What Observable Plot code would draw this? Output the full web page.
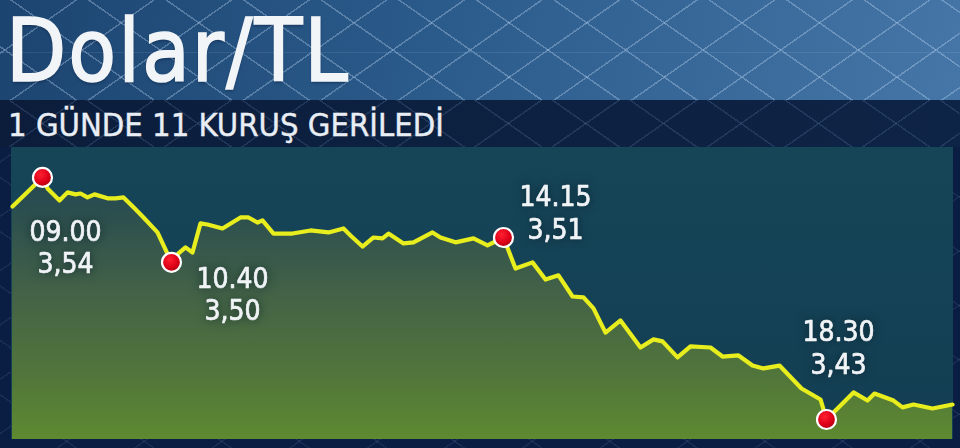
<!DOCTYPE html>
<html>
<head>
<meta charset="utf-8">
<script src="https://cdn.jsdelivr.net/npm/d3@7"></script>
<script src="https://cdn.jsdelivr.net/npm/@observablehq/plot@0.6"></script>
<style>
  html, body { margin: 0; padding: 0; }
  body {
    width: 960px; height: 448px; overflow: hidden; position: relative;
    background:
      repeating-linear-gradient(35deg, transparent 0 43px, rgba(150,185,230,.10) 43px 44.5px),
      repeating-linear-gradient(145deg, transparent 0 43px, rgba(150,185,230,.10) 43px 44.5px),
      #0a1d42;
    font-family: "DejaVu Sans Condensed", "DejaVu Sans", sans-serif;
  }
  #header {
    position: absolute; left: 0; top: 0; width: 960px; height: 100px;
    background:
      repeating-linear-gradient(35deg, transparent 0 43px, rgba(205,228,255,.30) 43px 44.5px),
      repeating-linear-gradient(145deg, transparent 0 43px, rgba(205,228,255,.30) 43px 44.5px),
      repeating-linear-gradient(180deg, transparent 0 52px, rgba(205,228,255,.10) 52px 53px),
      linear-gradient(100deg, #1c4470 0%, #2b5b8b 45%, #4576a7 100%);
  }
  #title {
    position: absolute; left: 6px; top: 1px; margin: 0; padding: 0 4px 0 0;
    font-family: "DejaVu Sans Condensed", "DejaVu Sans", sans-serif;
    font-stretch: condensed;
    font-size: 87px; line-height: 100px; font-weight: normal;
    letter-spacing: 2px;
    color: #f2f5f8;
    -webkit-text-stroke: 1.6px #f2f5f8;
    text-shadow: 0 2px 3px rgba(0,20,50,.45);
  }
  #subbar {
    position: absolute; left: 0; top: 100px; width: 960px; height: 47px;
    background:
      repeating-linear-gradient(35deg, transparent 0 43px, rgba(140,175,225,.16) 43px 44.5px),
      repeating-linear-gradient(145deg, transparent 0 43px, rgba(140,175,225,.16) 43px 44.5px),
      linear-gradient(90deg, #0b1d3b, #0e2446);
  }
  #subtitle {
    position: absolute; left: 8px; top: 105px; margin: 0;
    font-family: "DejaVu Sans Condensed", "DejaVu Sans", sans-serif;
    font-stretch: condensed;
    font-size: 32.5px; line-height: 40px; font-weight: normal;
    color: #e9eef4;
    -webkit-text-stroke: 0.4px #e9eef4;
  }
  #panel {
    position: absolute; left: 11px; top: 147px; width: 942px; height: 292px;
    background: linear-gradient(180deg, #164558 0%, #133e53 100%);
  }
  #chart { position: absolute; left: 0; top: 147px; }
  #chart g[aria-label="text"] text { filter: drop-shadow(0 0 5px rgba(5,25,35,.75)); }
</style>
</head>
<body>
<div id="header"></div>
<div id="title">Dolar/TL</div>
<div id="subbar"></div>
<div id="subtitle">1 GÜNDE 11 KURUŞ GERİLEDİ</div>
<div id="panel"></div>
<div id="chart"></div>
<script>
// intraday sample positions (arbitrary sampling steps) and USD/TRY rate
const steps = [0,15,17.5,23.5,27.5,31.5,34,37.5,41,47.5,51.5,55.5,60.5,65.5,72.5,79.5,83,86.5,90,94,97.5,105,114,118,122.5,125,130.5,140,149,158,165.5,169,175,180.5,185,188,195.5,200.5,210,214,221.5,230.5,237.5,245.5,251.5,260,266.5,273,280,285.5,290.5,296.5,304,314,320.5,325,332.5,339,349,355,363,370,375.5,383.5,394.5,404,407,420.5,427.5,431,440.5,445,450.5,460,470];
const rates = [3.5268,3.5400,3.5350,3.5295,3.5332,3.5323,3.5327,3.5309,3.5323,3.5305,3.5305,3.5309,3.5264,3.5218,3.5150,3.5014,3.5055,3.5082,3.5059,3.5191,3.5186,3.5168,3.5218,3.5218,3.5195,3.5205,3.5145,3.5145,3.5159,3.5150,3.5168,3.5136,3.5086,3.5127,3.5123,3.5145,3.5100,3.5105,3.5150,3.5127,3.5105,3.5123,3.5091,3.5127,3.4986,3.5014,3.4936,3.4955,3.4859,3.4855,3.4805,3.4695,3.4750,3.4627,3.4664,3.4655,3.4582,3.4632,3.4627,3.4586,3.4591,3.4545,3.4532,3.4545,3.4441,3.4391,3.4300,3.4423,3.4386,3.4418,3.4386,3.4355,3.4368,3.4350,3.4368];

// highlighted points
const highlightIndex = [1, 15, 43, 66];
const highlightTimes = ["09.00", "10.40", "14.15", "18.30"];
const highlightValues = ["3,54", "3,50", "3,51", "3,43"];

const yDomain = [3.4209, 3.5536];

const data = steps.map((t, i) => ({t, v: rates[i]}));
const highlights = highlightIndex.map((idx, k) => ({
  t: steps[idx], v: rates[idx], time: highlightTimes[k], value: highlightValues[k]
}));

// label placement relative to each dot (layout only)
const placement = [
  {dx: 23, dy: 41},
  {dx: 61, dy: 3},
  {dx: 52, dy: -54},
  {dx: 12, dy: -101}
];

const labelMarks = highlights.map((h, k) => Plot.text([h], {
  x: "t", y: "v",
  text: d => `${d.time}\n${d.value}`,
  dx: placement[k].dx, dy: placement[k].dy,
  lineAnchor: "top", textAnchor: "middle",
  lineHeight: 1.15,
  fontSize: 28,
  fontFamily: "'DejaVu Sans Condensed', 'DejaVu Sans', sans-serif",
  fill: "#f1f4f7",
  stroke: "#f1f4f7",
  strokeWidth: 0.7
}));

const chart = Plot.plot({
  width: 960,
  height: 301,
  marginTop: 0,
  marginBottom: 9,
  marginLeft: 12,
  marginRight: 8,
  x: {domain: [0, 470], axis: null},
  y: {domain: yDomain, axis: null},
  style: {background: "transparent", overflow: "visible"},
  marks: [
    Plot.areaY(data, {x: "t", y1: () => yDomain[0], y2: "v", fill: "url(#areaGrad)"}),
    Plot.line(data, {x: "t", y: "v", stroke: "#e8ee1e", strokeWidth: 4.2, strokeLinejoin: "round", strokeLinecap: "round"}),
    Plot.dot(highlights, {x: "t", y: "v", r: 9.5, fill: "url(#dotGrad)", stroke: "#ffffff", strokeWidth: 2.2}),
    ...labelMarks
  ]
});

const ns = "http://www.w3.org/2000/svg";
const defs = document.createElementNS(ns, "defs");
defs.innerHTML = `
  <linearGradient id="areaGrad" gradientUnits="userSpaceOnUse" x1="0" y1="0" x2="0" y2="292">
    <stop offset="0" stop-color="#1e4552"/>
    <stop offset="0.18" stop-color="#284c50"/>
    <stop offset="0.5" stop-color="#436247"/>
    <stop offset="0.8" stop-color="#52773a"/>
    <stop offset="1" stop-color="#5e8a30"/>
  </linearGradient>
  <radialGradient id="dotGrad" cx="0.4" cy="0.35" r="0.7">
    <stop offset="0" stop-color="#ff2030"/>
    <stop offset="0.6" stop-color="#dd0018"/>
    <stop offset="1" stop-color="#a8000e"/>
  </radialGradient>`;
chart.insertBefore(defs, chart.firstChild);
document.getElementById("chart").appendChild(chart);
</script>
</body>
</html>
